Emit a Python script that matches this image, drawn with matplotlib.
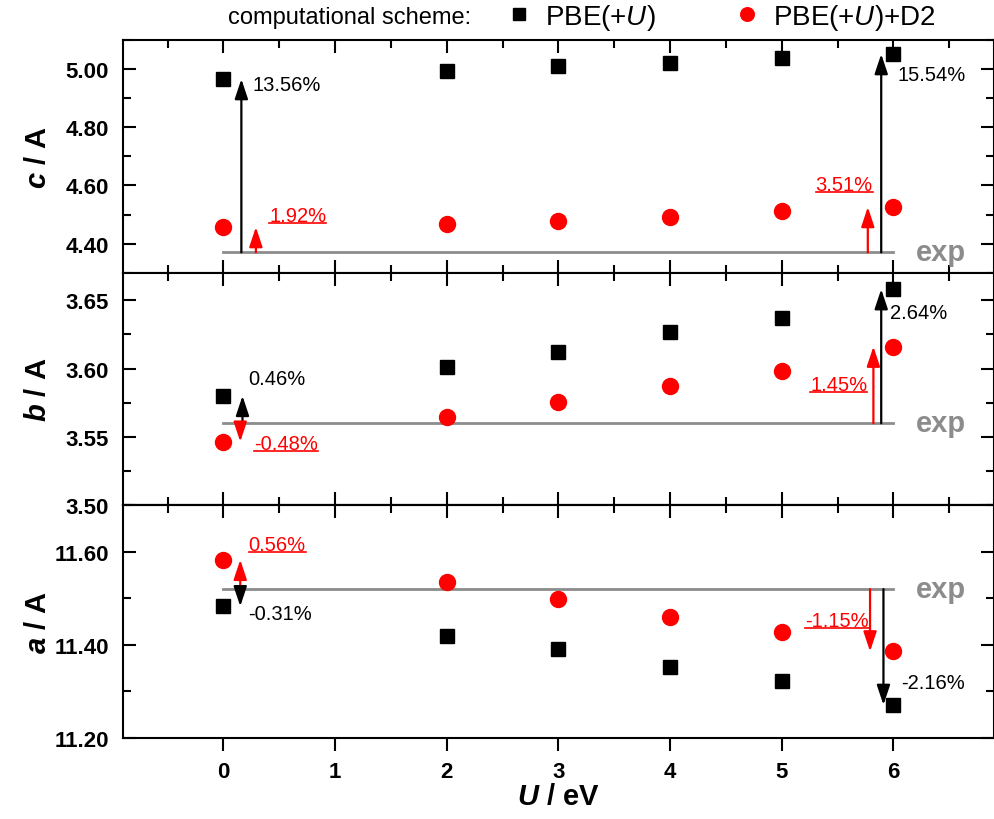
import matplotlib
matplotlib.use("Agg")
from matplotlib import pyplot as plt
from matplotlib.lines import Line2D
from matplotlib.ticker import FixedLocator, MultipleLocator

plt.rcParams["font.family"] = ["Liberation Sans", "DejaVu Sans"]
plt.rcParams["mathtext.fontset"] = "custom"
plt.rcParams["mathtext.it"] = "Liberation Sans:italic"
plt.rcParams["mathtext.bf"] = "Liberation Sans:bold:italic"
plt.rcParams["mathtext.rm"] = "Liberation Sans"

# data
U = [0, 2, 3, 4, 5, 6]
c_pbe = [4.966, 4.994, 5.012, 5.020, 5.040, 5.052]
c_d2 = [4.457, 4.468, 4.479, 4.492, 4.512, 4.526]
c_exp = 4.37
b_pbe = [3.580, 3.601, 3.612, 3.627, 3.637, 3.658]
b_d2 = [3.5465, 3.5644, 3.5752, 3.5872, 3.598, 3.616]
b_exp = 3.56
a_pbe = [11.483, 11.420, 11.391, 11.352, 11.323, 11.271]
a_d2 = [11.583, 11.536, 11.499, 11.459, 11.428, 11.386]
a_exp = 11.52

c_ticks = [4.40, 4.60, 4.80, 5.00]
b_ticks = [3.50, 3.55, 3.60, 3.65]
a_ticks = [11.20, 11.40, 11.60]

GRAY = "#8c8c8c"
RED = "#ff0000"

fig = plt.figure(figsize=(9.95, 8.2), dpi=100)
L, R = 123 / 995, 994 / 995
h = 0.2837
axes = [fig.add_axes([L, 0.0988 + h * (2 - i), R - L, h]) for i in range(3)]

panels = [
    # ylabel letter, pbe, d2, exp, ylim, ticks, minor step, arrows
    ("c", c_pbe, c_d2, c_exp, (4.30, 5.10), c_ticks, 0.1,
     [(0.16, 0, "k", "13.56%", (8, -4), "left"),
      (0.29, 0, "r", "1.92%", (9.5, 8), "left"),
      (5.89, 5, "k", "15.54%", (12, -15), "left"),
      (5.77, 5, "r", "3.51%", (3.5, 16), "right")]),
    ("b", b_pbe, b_d2, b_exp, (3.50, 3.67), b_ticks, 0.025,
     [(0.17, 0, "k", "0.46%", (4.5, 12.5), "left"),
      (0.15, 0, "r", "-0.48%", (10, -1), "left"),
      (5.89, 5, "k", "2.64%", (6, -17), "left"),
      (5.82, 5, "r", "1.45%", (-4.5, -27), "right")]),
    ("a", a_pbe, a_d2, a_exp, (11.20, 11.70), a_ticks, 0.1,
     [(0.15, 0, "r", "0.56%", (6, 11), "left"),
      (0.15, 0, "k", "-0.31%", (6, -5), "left"),
      (5.79, 5, "r", "-1.15%", (-1, 22), "right"),
      (5.91, 5, "k", "-2.16%", (13, 16), "left")]),
]

red_texts = []
for i, (ax, (lab, pbe, d2, exp, ylim, ticks, mstep, arrows)) in enumerate(zip(axes, panels)):
    h1, = ax.plot(U, pbe, "s", color="black", ms=10, ls="none", label="PBE(+$\\mathit{U}$)")
    h2, = ax.plot(U, d2, "o", color=RED, ms=11.5, ls="none", label="PBE(+$\\mathit{U}$)+D2")
    ax.plot([U[0], U[-1]], [exp, exp], color=GRAY, lw=2, zorder=1)
    ax.text(6.2, exp, "exp", color=GRAY, fontsize=21, fontweight="bold",
            ha="left", va="center")

    for xa, idx, col, txt, off, ha in arrows:
        vals = pbe if col == "k" else d2
        color = "black" if col == "k" else RED
        tip = vals[idx]
        ax.annotate("", xy=(xa, tip), xytext=(xa, exp),
                    arrowprops=dict(arrowstyle="-|>,head_length=0.6,head_width=0.2",
                                    mutation_scale=20, lw=1.6, color=color,
                                    shrinkA=0, shrinkB=0))
        t = ax.annotate(txt, xy=(xa, tip), xytext=off, textcoords="offset points",
                        ha=ha, va="center", fontsize=14.5, color=color)
        if col == "r":
            red_texts.append(t)

    ax.set_xlim(-0.9, 6.9)
    ax.set_ylim(*ylim)
    ax.yaxis.set_major_locator(FixedLocator(ticks))
    ax.yaxis.set_minor_locator(MultipleLocator(mstep))
    ax.set_yticklabels([f"{v:.2f}" for v in ticks], fontsize=16, fontweight="bold")
    ax.xaxis.set_major_locator(MultipleLocator(1))
    ax.xaxis.set_minor_locator(MultipleLocator(0.5))
    ax.tick_params(axis="y", which="both", direction="in", left=True, right=True,
                   width=1.5, pad=10)
    ax.tick_params(axis="y", which="major", length=9.5)
    ax.tick_params(axis="y", which="minor", length=5.5)
    for sp in ax.spines.values():
        sp.set_linewidth(1.5)
    ax.text(-0.098, 0.5, "$\\mathbf{%s}$ / A" % lab, transform=ax.transAxes,
            rotation=90, ha="center", va="center", fontsize=21, fontweight="bold")

    if i < 2:
        ax.tick_params(axis="x", which="both", direction="in", top=True, bottom=True,
                       labelbottom=False, width=1.5)
        ax.tick_params(axis="x", which="major", length=9.5)
        ax.tick_params(axis="x", which="minor", length=5.5)
    else:
        ax.xaxis.set_major_formatter(plt.FuncFormatter(lambda v, p: f"{v:.0f}"))
        ax.tick_params(axis="x", which="major", direction="out", length=9.5, width=1.5,
                       labelsize=16, pad=7)
        ax.tick_params(axis="x", which="minor", bottom=False)
        sec = ax.secondary_xaxis("top")
        sec.xaxis.set_major_locator(MultipleLocator(1))
        sec.xaxis.set_minor_locator(MultipleLocator(0.5))
        sec.tick_params(axis="x", which="both", direction="in", width=1.5, labeltop=False)
        sec.tick_params(axis="x", which="major", length=9.5)
        sec.tick_params(axis="x", which="minor", length=5.5)
        sec.spines["top"].set_linewidth(1.5)
        ax.set_xlabel("$\\mathbf{U}$ / eV", fontsize=21, fontweight="bold", labelpad=0)

fig.canvas.draw()
plt.setp(axes[2].get_xticklabels(), fontweight="bold")

fig.text(228 / 995, 1 - 18 / 820, "computational scheme:", fontsize=17,
         ha="left", va="center")
fig.legend(handles=[h1, h2], loc="center left", bbox_to_anchor=(505 / 995, 1 - 18 / 820),
           ncol=2, frameon=False, fontsize=20, handlelength=1.0, handletextpad=0.44,
           columnspacing=2.8, borderpad=0, borderaxespad=0, markerscale=0.85)

# underline the red percentages
fig.canvas.draw()
renderer = fig.canvas.get_renderer()
inv = fig.transFigure.inverted()
for t in red_texts:
    bb = t.get_window_extent(renderer)
    (x0, y0), (x1, _) = inv.transform([(bb.x0, bb.y0 + 2), (bb.x1, bb.y0 + 2)])
    fig.add_artist(Line2D([x0, x1], [y0, y0], color=RED, lw=1.2, transform=fig.transFigure))

fig.savefig("out.png", dpi=100)
